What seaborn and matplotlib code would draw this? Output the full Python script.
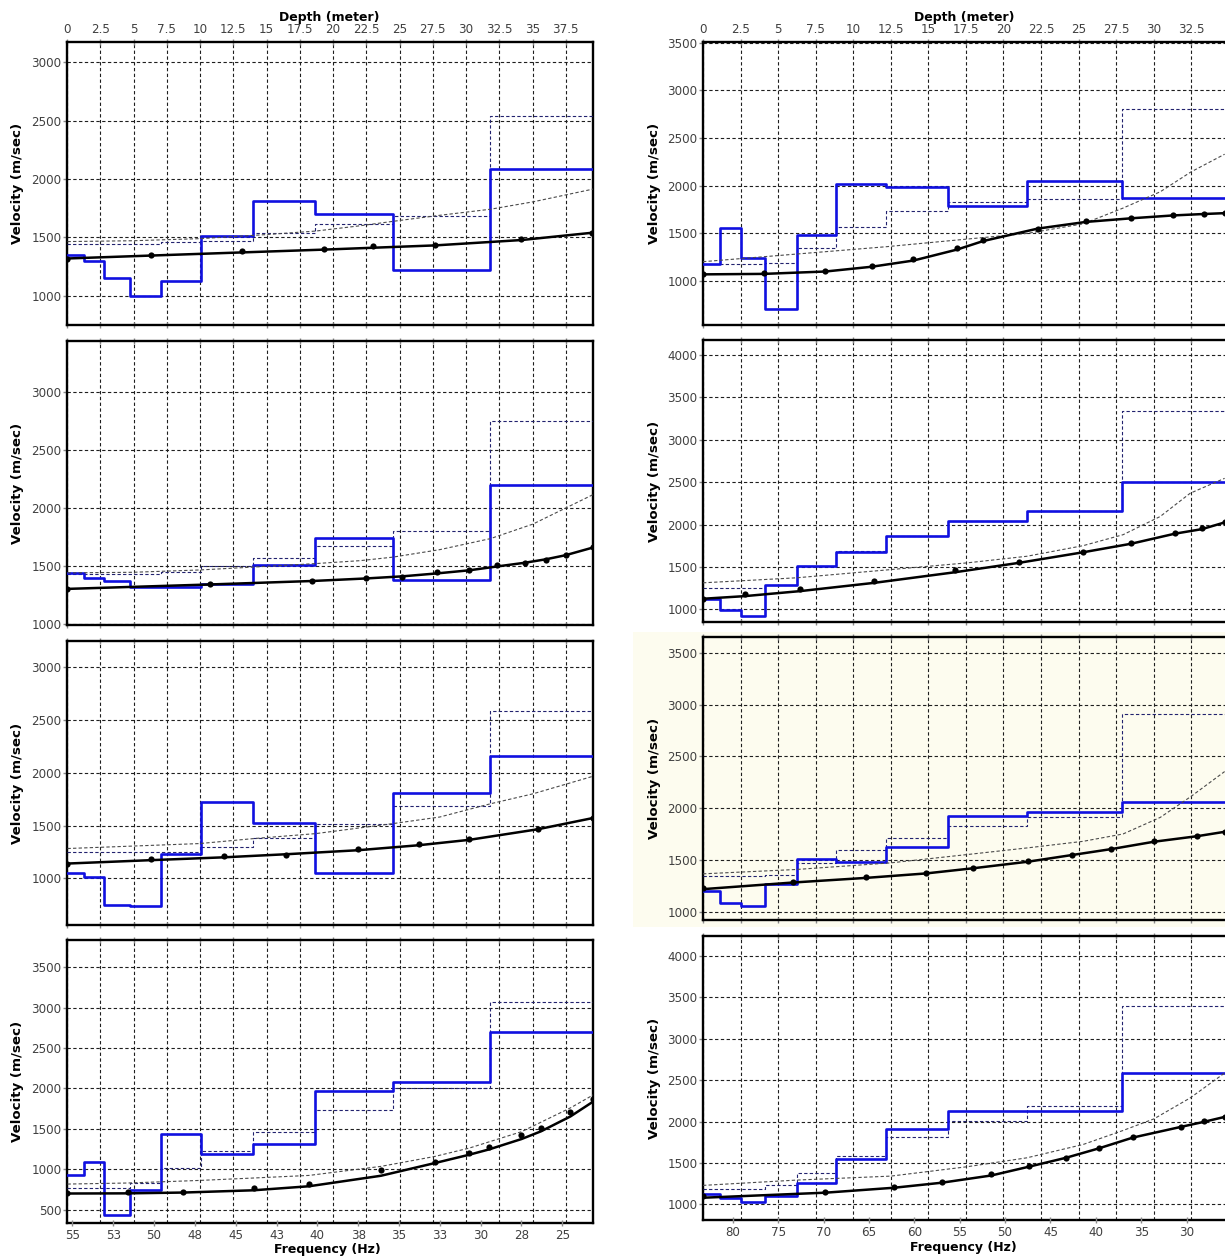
import matplotlib
matplotlib.use("Agg")
import matplotlib.pyplot as plt
import seaborn as sns
import pandas as pd
from matplotlib.patches import Rectangle

sns.set_theme(style="white")
plt.rcParams['font.family'] = ['DejaVu Sans']

# ---------------------------------------------------------------- data
# layer top depths (m)
LEFT_TOPS = [0, 1.25, 2.8, 4.75, 7.1, 10.05, 14.0, 18.65, 24.5, 31.8]
RIGHT_TOPS = [0, 1.1, 2.5, 4.1, 6.25, 8.85, 12.2, 16.3, 21.55, 27.9]

# final shear-wave velocity profiles (m/s)
vs_L1 = [1348, 1299, 1157, 997, 1125, 1516, 1812, 1698, 1219, 2088]
vs_L2 = [1437, 1400, 1371, 1314, 1314, 1345, 1509, 1740, 1380, 2200]
vs_L3 = [1053, 1016, 749, 736, 1229, 1722, 1527, 1053, 1807, 2155]
vs_L4 = [933, 1089, 438, 739, 1431, 1192, 1316, 1975, 2086, 2704]
vs_R1 = [1178, 1555, 1237, 707, 1482, 2020, 1988, 1786, 2044, 1876]
vs_R2 = [1125, 988, 922, 1293, 1508, 1677, 1860, 2036, 2162, 2498]
vs_R3 = [1199, 1083, 1055, 1270, 1513, 1478, 1629, 1927, 1963, 2062]
vs_R4 = [1120, 1080, 1028, 1100, 1253, 1542, 1916, 2124, 2124, 2586]

# initial model profiles (m/s)
init_L1 = [1447, 1447, 1447, 1447, 1460, 1470, 1541, 1613, 1685, 2544]
init_L2 = [1430, 1430, 1430, 1430, 1445, 1495, 1567, 1675, 1797, 2745]
init_L3 = [1248, 1248, 1248, 1248, 1248, 1298, 1386, 1518, 1681, 2579]
init_L4 = [768, 768, 768, 830, 1015, 1229, 1464, 1728, 2004, 3075]
init_R1 = [1178, 1178, 1178, 1185, 1342, 1569, 1737, 1824, 1859, 2805]
init_R2 = [1254, 1254, 1254, 1282, 1516, 1684, 1860, 2044, 2162, 3335]
init_R3 = [1343, 1343, 1343, 1359, 1472, 1597, 1716, 1825, 1911, 2909]
init_R4 = [1189, 1189, 1189, 1229, 1373, 1582, 1815, 2012, 2193, 3390]

# measured dispersion points (Hz, m/s)
obs_f_L1 = [55.3, 50.2, 44.6, 39.6, 36.6, 32.8, 27.5, 23.2]
obs_v_L1 = [1319, 1352, 1380, 1397, 1430, 1437, 1483, 1541]
obs_f_L2 = [55.3, 46.6, 40.3, 37.0, 34.8, 32.7, 30.7, 29.0, 27.3, 26.0, 24.8, 23.1]
obs_v_L2 = [1302, 1342, 1371, 1397, 1403, 1449, 1466, 1504, 1529, 1555, 1590, 1659]
obs_f_L3 = [55.3, 50.2, 45.7, 41.9, 37.5, 33.8, 30.7, 26.5, 23.1]
obs_v_L3 = [1141, 1185, 1213, 1226, 1276, 1323, 1370, 1471, 1575]
obs_f_L4 = [55.3, 51.6, 48.2, 43.9, 40.5, 36.1, 32.8, 30.7, 29.5, 27.5, 26.3, 24.5, 23.1]
obs_v_L4 = [706, 718, 718, 768, 821, 986, 1089, 1200, 1275, 1423, 1514, 1711, 1864]
obs_f_R1 = [83.3, 76.6, 69.8, 64.7, 60.1, 55.3, 52.4, 46.4, 41.1, 36.1, 31.5, 28.1, 25.8]
obs_v_R1 = [1070, 1080, 1105, 1157, 1227, 1342, 1429, 1548, 1628, 1660, 1688, 1705, 1709]
obs_f_R2 = [83.3, 78.7, 72.6, 64.4, 55.5, 48.5, 41.4, 36.1, 31.3, 28.3, 25.8]
obs_v_R2 = [1125, 1176, 1242, 1332, 1461, 1559, 1677, 1782, 1899, 1962, 2025]
obs_f_R3 = [83.3, 73.4, 65.3, 58.7, 53.5, 47.5, 42.6, 38.3, 33.6, 28.8, 25.8]
obs_v_R3 = [1225, 1289, 1334, 1375, 1424, 1488, 1552, 1610, 1680, 1732, 1770]
obs_f_R4 = [83.3, 69.8, 62.2, 57.0, 51.5, 47.4, 43.3, 39.7, 35.9, 30.6, 28.1, 25.8]
obs_v_R4 = [1100, 1153, 1209, 1269, 1361, 1462, 1562, 1683, 1815, 1936, 2012, 2056]

# theoretical dispersion curves of the final models (Hz, m/s)
fit_v_L1 = [1320, 1345, 1372, 1396, 1412, 1432, 1478, 1540]
fit_v_L2 = [1302, 1340, 1370, 1392, 1410, 1435, 1462, 1495, 1527, 1557, 1592, 1659]
fit_v_L3 = [1141, 1173, 1200, 1229, 1267, 1314, 1365, 1465, 1572]
fit_v_L4 = [700, 702, 712, 740, 790, 920, 1077, 1180, 1245, 1374, 1470, 1654, 1839]
fit_v_R1 = [1070, 1075, 1100, 1150, 1215, 1330, 1420, 1550, 1620, 1658, 1688, 1703, 1712]
fit_v_R2 = [1125, 1156, 1215, 1313, 1438, 1548, 1673, 1774, 1892, 1946, 2025]
fit_v_R3 = [1218, 1282, 1327, 1370, 1420, 1483, 1548, 1605, 1676, 1730, 1772]
fit_v_R4 = [1080, 1141, 1201, 1261, 1349, 1454, 1562, 1675, 1807, 1936, 1996, 2056]

# dispersion curves of the initial models (Hz, m/s)
ini_f_L1 = [55.3, 51.3, 47.2, 43.1, 40.1, 37.4, 35.0, 32.5, 29.4, 26.8, 23.1]
ini_v_L1 = [1465, 1472, 1490, 1525, 1555, 1600, 1645, 1690, 1742, 1805, 1915]
ini_f_L2 = [55.3, 51.3, 47.2, 43.9, 40.1, 37.4, 35.4, 32.5, 29.4, 26.8, 23.1]
ini_v_L2 = [1440, 1445, 1465, 1490, 1520, 1545, 1575, 1640, 1735, 1860, 2115]
ini_f_L3 = [55.3, 47.2, 43.9, 40.1, 35.4, 32.5, 29.4, 26.8, 23.1]
ini_v_L3 = [1283, 1330, 1377, 1424, 1518, 1581, 1706, 1800, 1967]
ini_f_L4 = [55.3, 51.6, 47.2, 44.0, 40.5, 36.1, 32.8, 30.7, 27.5, 24.5, 23.1]
ini_v_L4 = [817, 830, 862, 891, 924, 1036, 1159, 1262, 1465, 1760, 1921]
ini_f_R1 = [83.3, 73.0, 63.1, 54.2, 47.6, 41.4, 37.0, 32.9, 29.5, 25.8]
ini_v_R1 = [1203, 1283, 1360, 1440, 1499, 1600, 1765, 1936, 2145, 2330]
ini_f_R2 = [83.3, 73.0, 62.6, 54.2, 47.6, 41.4, 37.0, 32.9, 29.6, 25.8]
ini_v_R2 = [1313, 1372, 1469, 1548, 1626, 1751, 1880, 2095, 2369, 2545]
ini_f_R3 = [83.3, 73.0, 62.6, 54.2, 47.6, 41.4, 37.0, 32.9, 29.5, 25.8]
ini_v_R3 = [1366, 1408, 1472, 1552, 1616, 1680, 1751, 1911, 2114, 2354]
ini_f_R4 = [83.3, 73.0, 62.6, 54.2, 47.6, 41.4, 37.0, 33.6, 29.6, 25.8]
ini_v_R4 = [1229, 1293, 1341, 1454, 1562, 1723, 1892, 2032, 2285, 2586]

# axis ticks and labels
LEFT_DEPTH_TICKS = [0, 2.5, 5, 7.5, 10, 12.5, 15, 17.5, 20, 22.5, 25, 27.5, 30, 32.5, 35, 37.5]
RIGHT_DEPTH_TICKS = [0, 2.5, 5, 7.5, 10, 12.5, 15, 17.5, 20, 22.5, 25, 27.5, 30, 32.5]
LEFT_FREQ_TICKS = [55, 52.5, 50, 47.5, 45, 42.5, 40, 37.5, 35, 32.5, 30, 27.5, 25]
LEFT_FREQ_LABELS = ['55', '53', '50', '48', '45', '43', '40', '38', '35', '33', '30', '28', '25']
RIGHT_FREQ_TICKS = [80, 75, 70, 65, 60, 55, 50, 45, 40, 35, 30]
RIGHT_FREQ_LABELS = ['80', '75', '70', '65', '60', '55', '50', '45', '40', '35', '30']

# ---------------------------------------------------------------- layout
W, H = 1225, 1258
fig = plt.figure(figsize=(W / 100, H / 100), dpi=100)
fig.patch.set_facecolor('white')

CREAM = '#fdfcef'
fig.patches.append(Rectangle((633 / W, 1 - 927 / H), (W - 633) / W, (927 - 632) / H,
                             transform=fig.transFigure, facecolor=CREAM,
                             edgecolor='none', zorder=-5))

AX_W = 525.8
panels = [
    # col, row, top, bottom, ylim, yticks, vs, init, obs_f, obs_v, fit_v, ini_f, ini_v
    (0, 0, 42, 325, (750, 3175), [1000, 1500, 2000, 2500, 3000], vs_L1, init_L1,
     obs_f_L1, obs_v_L1, fit_v_L1, ini_f_L1, ini_v_L1),
    (0, 1, 341, 625, (991, 3437), [1000, 1500, 2000, 2500, 3000], vs_L2, init_L2,
     obs_f_L2, obs_v_L2, fit_v_L2, ini_f_L2, ini_v_L2),
    (0, 2, 641, 925, (560, 3245), [1000, 1500, 2000, 2500, 3000], vs_L3, init_L3,
     obs_f_L3, obs_v_L3, fit_v_L3, ini_f_L3, ini_v_L3),
    (0, 3, 940, 1223, (335, 3838), [500, 1000, 1500, 2000, 2500, 3000, 3500], vs_L4, init_L4,
     obs_f_L4, obs_v_L4, fit_v_L4, ini_f_L4, ini_v_L4),
    (1, 0, 42, 325, (539, 3507), [1000, 1500, 2000, 2500, 3000, 3500], vs_R1, init_R1,
     obs_f_R1, obs_v_R1, fit_v_R1, ini_f_R1, ini_v_R1),
    (1, 1, 340, 622, (851, 4176), [1000, 1500, 2000, 2500, 3000, 3500, 4000], vs_R2, init_R2,
     obs_f_R2, obs_v_R2, fit_v_R2, ini_f_R2, ini_v_R2),
    (1, 2, 637, 920, (920, 3654), [1000, 1500, 2000, 2500, 3000, 3500], vs_R3, init_R3,
     obs_f_R3, obs_v_R3, fit_v_R3, ini_f_R3, ini_v_R3),
    (1, 3, 936, 1220, (811, 4241), [1000, 1500, 2000, 2500, 3000, 3500, 4000], vs_R4, init_R4,
     obs_f_R4, obs_v_R4, fit_v_R4, ini_f_R4, ini_v_R4),
]

BLUE = '#1010e0'
NAVY = '#22226e'
TICK_COL = '#404040'
GRID_STYLE = dict(color='#1e1e1e', linestyle=(0, (3, 2.2)), linewidth=0.8)
TICK_KW = dict(width=1, color='#8a8a8a', labelsize=8.6, labelcolor=TICK_COL)


def step_xy(tops, vel, dmax):
    xs = list(tops) + [dmax]
    ys = list(vel) + [vel[-1]]
    return pd.DataFrame({'depth': xs, 'velocity': ys})


for (col, row, top, bot, ylim, yticks, vs, init, of, ov, fv, inf, inv) in panels:
    left = 67 if col == 0 else 703
    tops = LEFT_TOPS if col == 0 else RIGHT_TOPS
    dmax = 39.53 if col == 0 else 35.0
    flim = (55.33, 23.13) if col == 0 else (83.3, 25.34)
    dticks = LEFT_DEPTH_TICKS if col == 0 else RIGHT_DEPTH_TICKS
    is_top = row == 0
    is_bottom = row == 3
    hpx = bot - top

    ax = fig.add_axes([left / W, 1 - bot / H, AX_W / W, hpx / H])
    ax.set_facecolor(CREAM if (col == 1 and row == 2) else 'white')
    axf = ax.twiny()

    # velocity profiles against depth
    sns.lineplot(data=step_xy(tops, init, dmax), x='depth', y='velocity', ax=ax,
                 drawstyle='steps-post', sort=False, estimator=None,
                 color=NAVY, linewidth=0.8, linestyle=(0, (3, 2)), zorder=3)
    sns.lineplot(data=step_xy(tops, vs, dmax), x='depth', y='velocity', ax=ax,
                 drawstyle='steps-post', sort=False, estimator=None,
                 color=BLUE, linewidth=1.9, zorder=4)

    # dispersion curves against frequency
    sns.lineplot(x=inf, y=inv, ax=axf, sort=False, estimator=None,
                 color='#4a4a4a', linewidth=0.8, linestyle=(0, (3, 2)), zorder=3)
    sns.lineplot(x=of, y=fv, ax=axf, sort=False, estimator=None,
                 color='black', linewidth=1.8, zorder=5)
    sns.scatterplot(x=of, y=ov, ax=axf, color='black', s=20, linewidth=0,
                    marker='o', zorder=6)

    ax.set_xlim(0, dmax)
    ax.set_ylim(*ylim)
    axf.set_xlim(*flim)
    axf.set_ylim(*ylim)

    ax.set_xticks(dticks)
    ax.set_xticklabels([f'{t:g}' for t in dticks])
    ax.set_yticks(yticks)
    ax.set_yticklabels([str(t) for t in yticks])
    ax.grid(True, **GRID_STYLE)
    ax.set_axisbelow(True)

    for sp in ax.spines.values():
        sp.set_visible(True)
        sp.set_color('black')
        sp.set_linewidth(1.7)
    for sp in axf.spines.values():
        sp.set_visible(False)

    # depth ticks on the frame (labels only along the top row)
    ax.xaxis.set_ticks_position('both')
    ax.tick_params(axis='x', which='both', top=True, bottom=not is_bottom,
                   labeltop=is_top, labelbottom=False, direction='inout',
                   length=5, pad=1.5, **TICK_KW)
    ax.tick_params(axis='y', left=True, right=False, labelleft=True, direction='out',
                   length=3, pad=1, **TICK_KW)

    ax.set_ylabel('Velocity (m/sec)', fontsize=9.6, fontweight='bold', color='black')
    ax.yaxis.set_label_coords(((24 if col == 0 else 661) - left) / AX_W, 0.5)
    if is_top:
        ax.xaxis.set_label_position('top')
        ax.set_xlabel('Depth (meter)', fontsize=9, fontweight='bold', color='black')
        # bottom of the title sits 21 px below the figure's top edge
        ax.xaxis.set_label_coords(0.498 if col == 0 else 0.496, 1 + (top - 21) / hpx)
    else:
        ax.set_xlabel('')

    # frequency scale along the bottom row
    if is_bottom:
        fticks = LEFT_FREQ_TICKS if col == 0 else RIGHT_FREQ_TICKS
        flabels = LEFT_FREQ_LABELS if col == 0 else RIGHT_FREQ_LABELS
        axf.xaxis.set_ticks_position('bottom')
        axf.xaxis.set_label_position('bottom')
        axf.set_xticks(fticks)
        axf.set_xticklabels(flabels)
        axf.tick_params(axis='x', bottom=True, top=False, labelbottom=True, labeltop=False,
                        direction='inout', length=5, pad=2, **TICK_KW)
        axf.set_xlabel('Frequency (Hz)', fontsize=9, fontweight='bold', color='black')
        axf.xaxis.set_label_coords(0.496, -((1243 if col == 0 else 1241) - bot) / hpx)
    else:
        axf.set_xticks([])
        axf.set_xlabel('')
    axf.set_ylabel('')

fig.savefig('out.png', dpi=100)
